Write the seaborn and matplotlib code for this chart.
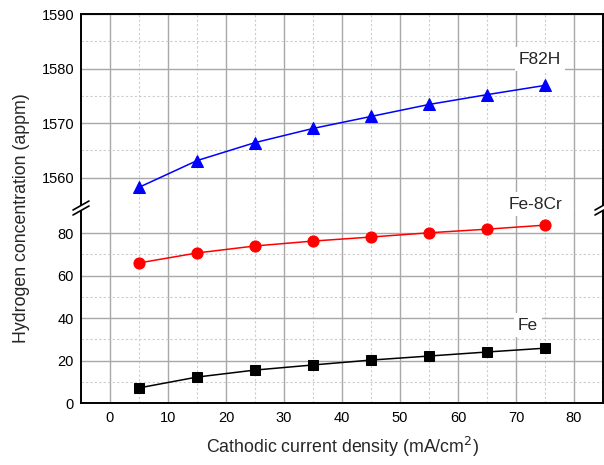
import numpy as np
import pandas as pd
import matplotlib
matplotlib.use("Agg")
import matplotlib.pyplot as plt
from matplotlib.ticker import FixedLocator
from matplotlib.lines import Line2D
from matplotlib.patches import Rectangle
import seaborn as sns

# ---- data ----
current_density = [5, 15, 25, 35, 45, 55, 65, 75]
fe = [7.1, 12.2, 15.5, 17.9, 20.2, 22.1, 24.0, 25.8]
fe8cr = [65.9, 70.6, 73.9, 76.2, 78.1, 80.1, 81.8, 83.7]
f82h = [1558.2, 1563.1, 1566.4, 1569.0, 1571.2, 1573.4, 1575.2, 1576.9]
x_ticks = [0, 10, 20, 30, 40, 50, 60, 70, 80]
y_top_ticks = [1560, 1570, 1580, 1590]
y_bot_ticks = [0, 20, 40, 60, 80]
series_names = ["F82H", "Fe-8Cr", "Fe"]

sns.set_style("white")
plt.rcParams['font.family'] = ['Liberation Sans', 'DejaVu Sans']

W, H = 604, 465
fig = plt.figure(figsize=(W / 100, H / 100), dpi=100)

left_px, right_px, top_px, mid_px, bot_px = 81, 603, 14, 208, 403
l = left_px / W
w = (right_px - left_px) / W
ax_top = fig.add_axes([l, 1 - mid_px / H, w, (mid_px - top_px) / H])
ax_bot = fig.add_axes([l, 1 - bot_px / H, w, (bot_px - mid_px) / H])

df_top = pd.DataFrame({"x": current_density, "y": f82h})
df_fecr = pd.DataFrame({"x": current_density, "y": fe8cr})
df_fe = pd.DataFrame({"x": current_density, "y": fe})

sns.lineplot(data=df_top, x="x", y="y", ax=ax_top, color="#0000ff", marker="^",
             markersize=9, markeredgecolor="#0000ff", linewidth=1.1, zorder=5)
sns.lineplot(data=df_fecr, x="x", y="y", ax=ax_bot, color="#ff0000", marker="o",
             markersize=8, markeredgecolor="#ff0000", linewidth=1.1, zorder=5)
sns.lineplot(data=df_fe, x="x", y="y", ax=ax_bot, color="black", marker="s",
             markersize=6.5, markeredgecolor="black", linewidth=1.1, zorder=5)

ax_top.set_ylim(1590 - (mid_px - top_px) / 5.45, 1590)
ax_bot.set_ylim(0, (bot_px - mid_px) / 2.125)
for ax in (ax_top, ax_bot):
    ax.set_xlim(-5, 85)
    ax.set_xlabel("")
    ax.set_ylabel("")
    ax.xaxis.set_major_locator(FixedLocator(x_ticks))
    ax.xaxis.set_minor_locator(FixedLocator([5, 15, 25, 35, 45, 55, 65, 75]))
    ax.grid(True, which="major", color="#a8a8a8", linestyle="-", linewidth=1.0, zorder=0)
    ax.grid(True, which="minor", color="#cccccc", linestyle=(0, (2, 2)), linewidth=0.8, zorder=0)
    ax.set_axisbelow(True)
    for s in ax.spines.values():
        s.set_color("black")
        s.set_linewidth(1.4)
    ax.tick_params(axis="both", which="major", direction="in", length=6, width=1.2,
                   labelsize=10.5, colors="black", pad=5)
    ax.tick_params(axis="both", which="minor", direction="in", length=3.5, width=1.0)
    ax.tick_params(axis="y", which="both", right=False)

ax_top.yaxis.set_major_locator(FixedLocator(y_top_ticks))
ax_top.yaxis.set_minor_locator(FixedLocator([1565, 1575, 1585]))
ax_bot.yaxis.set_major_locator(FixedLocator(y_bot_ticks))
ax_bot.yaxis.set_minor_locator(FixedLocator([10, 30, 50, 70]))

ax_top.spines["bottom"].set_visible(False)
ax_bot.spines["top"].set_visible(False)
ax_top.tick_params(axis="x", which="both", bottom=False, top=False, labelbottom=False)
ax_bot.tick_params(axis="x", which="both", top=False, pad=6)

ax_bot.set_xlabel("Cathodic current density (mA/cm$^2$)", fontsize=12.8, labelpad=7)
fig.text(22 / W, 1 - 218 / H, "Hydrogen concentration (appm)", rotation=90,
         ha="center", va="center", fontsize=12.8)

# break marks
def fx(px):
    return px / W

def fy(py):
    return 1 - py / H

for xc in (left_px, right_px):
    fig.patches.append(Rectangle((fx(xc - 3), fy(210)), fx(6), 5 / H,
                                 transform=fig.transFigure, facecolor="white",
                                 edgecolor="none", zorder=10))
    for dy in (-2.5, 2.5):
        fig.lines.append(Line2D([fx(xc - 8), fx(xc + 8)],
                                [fy(mid_px + dy + 4.5), fy(mid_px + dy - 4.5)],
                                transform=fig.transFigure, color="black",
                                linewidth=1.2, zorder=11))

# series labels
bbox = dict(facecolor="white", edgecolor="none", pad=3)
fig.text(fx(540), fy(59), series_names[0], ha="center", va="center", fontsize=12.5, bbox=bbox)
fig.text(fx(535), fy(204), series_names[1], ha="center", va="center", fontsize=12.5, bbox=bbox)
fig.text(fx(528), fy(325), series_names[2], ha="center", va="center", fontsize=12.5, bbox=bbox)

fig.savefig("out.png", dpi=100)
